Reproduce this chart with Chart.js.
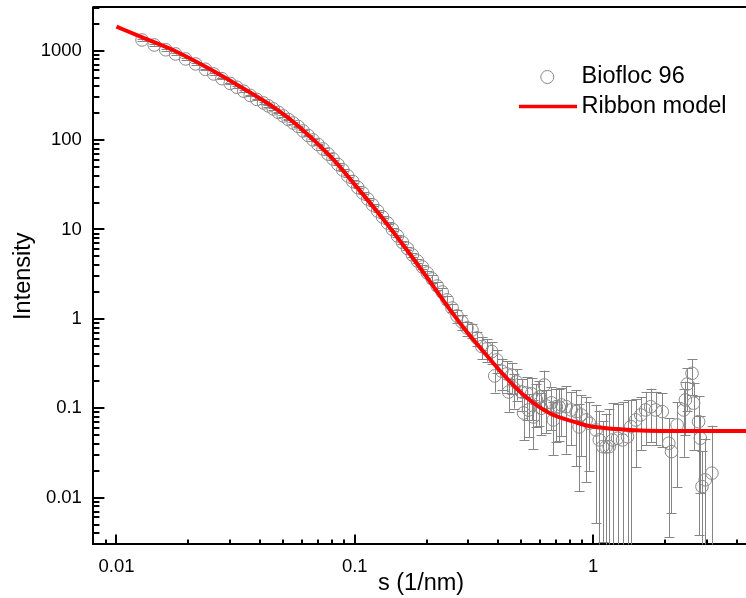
<!DOCTYPE html>
<html>
<head>
<meta charset="utf-8">
<script src="https://cdn.jsdelivr.net/npm/chart.js@4/dist/chart.umd.min.js"></script>
<style>
html,body{margin:0;padding:0;background:#fff;overflow:hidden;}
canvas{display:block;}
</style>
</head>
<body>
<canvas id="c" width="756" height="598"></canvas>
<script>
// ---- data ----
const seriesNames = ['Biofloc 96', 'Ribbon model'];
const axisTitles = { x: 's (1/nm)', y: 'Intensity' };

const sValues = [
  0.0128, 0.0144, 0.0161, 0.0177, 0.0195, 0.0215, 0.0236, 0.0256, 0.0277, 0.0300, 0.0320, 0.0342, 0.0364, 0.0388,
  0.0414, 0.0434, 0.0455, 0.0478, 0.0501, 0.0526, 0.0552, 0.0579, 0.0607, 0.0637,
  0.0668, 0.0701, 0.0736, 0.0772, 0.0810, 0.0850, 0.0891, 0.0935, 0.0981, 0.1029,
  0.1080, 0.1133, 0.1189, 0.1247, 0.1308, 0.1373, 0.1440, 0.1511, 0.1585, 0.1663,
  0.1745, 0.1831, 0.1921, 0.2015, 0.2114, 0.2218, 0.2327, 0.2441, 0.2561, 0.2687,
  0.2819, 0.2958, 0.3103, 0.3255, 0.3415, 0.3583, 0.3759, 0.3868, 0.3944, 0.4138,
  0.4341, 0.4424, 0.4555, 0.4642, 0.4778, 0.5013, 0.5109, 0.5260, 0.5361, 0.5518,
  0.5623, 0.5789, 0.5957, 0.6074, 0.6248, 0.6372, 0.6685, 0.6813, 0.7014, 0.7216,
  0.7359, 0.7720, 0.8100, 0.8498, 0.8743, 0.8915, 0.9353, 0.9651, 1.0295, 1.0623,
  1.0975, 1.1332, 1.1692, 1.2082, 1.2675, 1.3298, 1.3950, 1.4404, 1.5112, 1.5854,
  1.6633, 1.7451, 1.8308, 1.9518, 2.0795, 2.1339, 2.2535, 2.4015, 2.4415, 2.4880,
  2.6028, 2.6430, 2.7726, 2.8194, 2.8648, 2.9580, 3.1535
];
const intensity = [
  1317, 1158, 1023, 919, 808, 710, 619, 549, 486, 430, 390, 352, 316, 285,
  260, 241, 223, 204, 186, 170, 155, 142, 126.5, 112.6,
  100.3, 89.3, 79.5, 69.9, 61.5, 53.4, 46.3, 39.7, 34.4, 29.5,
  25.6, 21.9, 18.8, 16.1, 13.8, 11.8, 10.0, 8.46, 7.16, 6.13,
  5.19, 4.44, 3.81, 3.26, 2.80, 2.33, 2.00, 1.63, 1.32, 1.078,
  0.923, 0.791, 0.75, 0.612, 0.49, 0.461, 0.43, 0.230, 0.347, 0.26,
  0.242, 0.152, 0.235, 0.169, 0.197, 0.152, 0.0886, 0.148, 0.0957, 0.145,
  0.0799, 0.124, 0.134, 0.100, 0.182, 0.106, 0.115, 0.074, 0.104, 0.103,
  0.109, 0.104, 0.0957, 0.0916, 0.0618, 0.0841, 0.074, 0.068, 0.0572, 0.0442,
  0.0372, 0.0369, 0.0372, 0.0442, 0.0462, 0.0442, 0.0481, 0.0623, 0.074, 0.0841,
  0.0957, 0.104, 0.0957, 0.0916, 0.0406, 0.0327, 0.065, 0.0957, 0.124, 0.187,
  0.246, 0.114, 0.0708, 0.0462, 0.0133, 0.0158, 0.0188
];
const intensityErr = [
  26, 23, 20, 18, 16, 14, 12, 11, 10, 9, 8, 7, 6.5, 6,
  5.5, 5, 4.6, 4.2, 3.9, 3.6, 3.3, 3.0, 2.7, 2.5,
  2.3, 2.1, 1.9, 1.7, 1.5, 1.3, 1.2, 1.0, 0.9, 0.75,
  0.65, 0.55, 0.5, 0.42, 0.36, 0.31, 0.27, 0.25, 0.36, 0.31,
  0.26, 0.22, 0.19, 0.16, 0.28, 0.23, 0.20, 0.16, 0.13, 0.19,
  0.17, 0.14, 0.135, 0.11, 0.137, 0.13, 0.12, 0.08, 0.097, 0.099,
  0.092, 0.061, 0.089, 0.07, 0.075, 0.058, 0.045, 0.074, 0.048, 0.072,
  0.045, 0.062, 0.07, 0.05, 0.082, 0.053, 0.058, 0.044, 0.062, 0.06,
  0.060, 0.073, 0.057, 0.069, 0.05, 0.055, 0.059, 0.048, 0.052, 0.050,
  0.034, 0.05, 0.060, 0.070, 0.066, 0.072, 0.075, 0.062, 0.052, 0.050,
  0.057, 0.062, 0.057, 0.055, 0.037, 0.026, 0.052, 0.067, 0.074, 0.094,
  0.106, 0.080, 0.067, 0.035, 0.020, 0.030, 0.045
];

const modelS = [0.01, 0.01283, 0.01778, 0.02441, 0.0335, 0.04642, 0.05787, 0.07943, 0.101, 0.1283,
  0.1631, 0.2073, 0.2512, 0.2957, 0.348, 0.4217, 0.5109, 0.6556, 0.8494, 0.9623, 1.334, 2.217, 4.5];
const modelI = [1856, 1405, 980, 632, 388, 226, 144, 64.7, 30.7, 14.2,
  6.21, 2.59, 1.26, 0.714, 0.426, 0.236, 0.141, 0.0886, 0.0694, 0.0634, 0.0579, 0.0557, 0.0557];

const xMajorTicks = [0.01, 0.1, 1];
const xMinorTicks = [0.008, 0.009, 0.02, 0.03, 0.04, 0.05, 0.06, 0.07, 0.08, 0.09,
  0.2, 0.3, 0.4, 0.5, 0.6, 0.7, 0.8, 0.9, 2, 3, 4];
const yMajorTicks = [0.01, 0.1, 1, 10, 100, 1000];
const yMinorTicks = [0.004, 0.005, 0.006, 0.007, 0.008, 0.009,
  0.02, 0.03, 0.04, 0.05, 0.06, 0.07, 0.08, 0.09,
  0.2, 0.3, 0.4, 0.5, 0.6, 0.7, 0.8, 0.9,
  2, 3, 4, 5, 6, 7, 8, 9,
  20, 30, 40, 50, 60, 70, 80, 90,
  200, 300, 400, 500, 600, 700, 800, 900,
  2000, 3000];

// ---- chart ----
const FONT = '"Liberation Sans", Arial, Helvetica, sans-serif';
Chart.defaults.font.family = FONT;
Chart.defaults.color = '#000';

const setTicks = (list) => (scale) => { scale.ticks = list.map(v => ({ value: v })); };

const errorBarPlugin = {
  id: 'errorBars',
  beforeDatasetsDraw(chart) {
    const ctx = chart.ctx, xs = chart.scales.x, ys = chart.scales.y, a = chart.chartArea;
    ctx.save();
    ctx.beginPath();
    ctx.rect(a.left, a.top, a.right - a.left, a.bottom - a.top);
    ctx.clip();
    ctx.strokeStyle = '#858585';
    ctx.lineWidth = 1;
    const cap = 5;
    sValues.forEach((s, i) => {
      const x = Math.round(xs.getPixelForValue(s)) + 0.5;
      const hi = intensity[i] + intensityErr[i];
      const lo = intensity[i] - intensityErr[i];
      const yTop = ys.getPixelForValue(hi);
      const yBot = lo > 0 ? ys.getPixelForValue(lo) : a.bottom + 5;
      ctx.beginPath();
      ctx.moveTo(x, yTop); ctx.lineTo(x, yBot);
      ctx.moveTo(x - cap, Math.round(yTop) + 0.5); ctx.lineTo(x + cap, Math.round(yTop) + 0.5);
      if (lo > 0) { ctx.moveTo(x - cap, Math.round(yBot) + 0.5); ctx.lineTo(x + cap, Math.round(yBot) + 0.5); }
      ctx.stroke();
    });
    ctx.restore();
  }
};

// inward tick marks, placed through the chart's own scales
const tickPlugin = {
  id: 'inwardTicks',
  afterDraw(chart) {
    const ctx = chart.ctx, a = chart.chartArea, xs = chart.scales.x, ys = chart.scales.y;
    ctx.save();
    ctx.strokeStyle = '#000';
    ctx.lineWidth = 2;
    ctx.beginPath();
    const xTick = (v, len) => {
      const x = Math.round(xs.getPixelForValue(v));
      if (x < a.left - 1 || x > a.right + 1) return;
      ctx.moveTo(x, a.bottom); ctx.lineTo(x, a.bottom - len);
    };
    const yTick = (v, len) => {
      const y = Math.round(ys.getPixelForValue(v));
      if (y < a.top - 1 || y > a.bottom + 1) return;
      ctx.moveTo(a.left, y); ctx.lineTo(a.left + len, y);
    };
    xMajorTicks.forEach(v => xTick(v, 10));
    xMinorTicks.forEach(v => xTick(v, 5));
    yMajorTicks.forEach(v => yTick(v, 11));
    yMinorTicks.forEach(v => yTick(v, 6));
    ctx.stroke();
    // top frame line
    ctx.beginPath();
    ctx.moveTo(a.left - 1, a.top - 1);
    ctx.lineTo(a.right, a.top - 1);
    ctx.lineTo(a.right, a.bottom);
    ctx.stroke();
    ctx.restore();
  }
};

const legendPlugin = {
  id: 'innerLegend',
  afterDraw(chart) {
    const ctx = chart.ctx;
    const lineDs = chart.data.datasets[0];
    const ptDs = chart.data.datasets[1];
    ctx.save();
    ctx.font = '23.5px ' + FONT;
    ctx.fillStyle = '#000';
    ctx.textBaseline = 'middle';
    ctx.textAlign = 'left';
    ctx.beginPath();
    ctx.arc(547.3, 77, 6.5, 0, Math.PI * 2);
    ctx.strokeStyle = ptDs.pointBorderColor;
    ctx.lineWidth = 1;
    ctx.stroke();
    ctx.fillText(ptDs.label, 581.5, 77);
    ctx.beginPath();
    ctx.moveTo(519, 106.5);
    ctx.lineTo(577, 106.5);
    ctx.strokeStyle = lineDs.borderColor;
    ctx.lineWidth = 3.5;
    ctx.stroke();
    ctx.fillText(lineDs.label, 581.5, 106.5);
    ctx.restore();
  }
};

new Chart(document.getElementById('c'), {
  type: 'scatter',
  data: {
    datasets: [
      {
        label: seriesNames[1],
        data: modelS.map((s, i) => ({ x: s, y: modelI[i] })),
        showLine: true,
        borderColor: '#ff0000',
        borderWidth: 4,
        pointRadius: 0,
        cubicInterpolationMode: 'monotone',
        order: 0
      },
      {
        label: seriesNames[0],
        data: sValues.map((s, i) => ({ x: s, y: intensity[i] })),
        showLine: false,
        pointStyle: 'circle',
        pointRadius: 6.3,
        pointBorderColor: '#888888',
        pointBackgroundColor: 'rgba(0,0,0,0)',
        pointBorderWidth: 1,
        order: 1
      }
    ]
  },
  options: {
    responsive: false,
    animation: false,
    devicePixelRatio: 1,
    layout: { padding: { top: 8, right: 2, bottom: 0, left: 0 } },
    plugins: { legend: { display: false }, tooltip: { enabled: false } },
    scales: {
      x: {
        type: 'logarithmic', position: 'bottom', min: 0.008, max: 4.5,
        afterBuildTicks: setTicks(xMajorTicks),
        afterFit: (s) => { s.height = 53.6; s.paddingLeft = 0; s.paddingRight = 0; },
        ticks: { callback: (v) => String(v), font: { size: 18.5 }, color: '#000', padding: 11, maxRotation: 0, autoSkip: false },
        grid: { display: false, drawTicks: false },
        border: { display: true, color: '#000', width: 2 },
        title: { display: true, text: axisTitles.x, font: { size: 23.5 }, color: '#000', padding: { top: 0, bottom: 0 } }
      },
      y: {
        type: 'logarithmic', position: 'left', min: 0.003, max: 3000,
        afterBuildTicks: setTicks(yMajorTicks),
        afterFit: (s) => { s.width = 93.4; s.paddingTop = 0; s.paddingBottom = 0; },
        ticks: { callback: (v) => String(v), font: { size: 18.5 }, color: '#000', padding: 11.5, autoSkip: false },
        grid: { display: false, drawTicks: false },
        border: { display: true, color: '#000', width: 2 },
        title: { display: true, text: axisTitles.y, font: { size: 23.5 }, color: '#000', padding: { top: 9, bottom: 0 } }
      }
    }
  },
  plugins: [errorBarPlugin, tickPlugin, legendPlugin]
});
</script>
</body>
</html>
